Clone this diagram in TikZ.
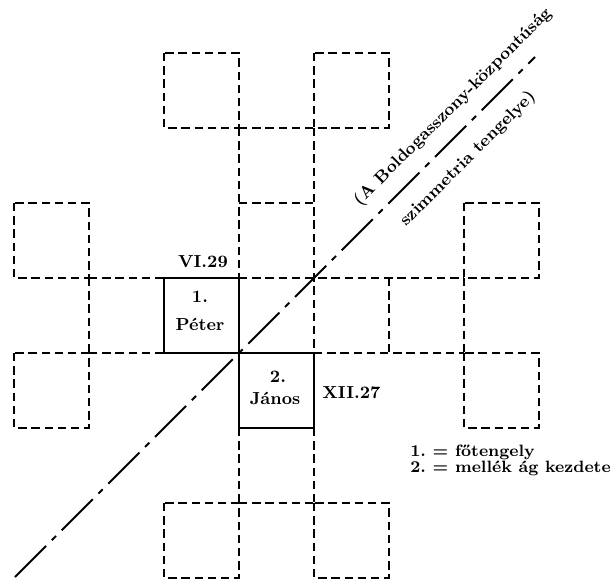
\documentclass[tikz,border=0pt]{standalone}
\begin{document}
\frenchspacing
\begin{tikzpicture}[x=0.5pt,y=-0.5pt,
  dsh/.style={line width=0.9pt, dash pattern=on 4.2pt off 2.4pt},
  sld/.style={line width=1pt},
  symaxis/.style={line width=0.9pt, dash pattern=on 22pt off 4pt on 3pt off 4pt},
  lbl/.style={font=\fontsize{8.7}{10}\selectfont\bfseries, inner sep=0pt},
  leg/.style={font=\fontsize{8.2}{10}\selectfont\bfseries, inner sep=0pt, anchor=base west},
  rlbl/.style={font=\fontsize{8.5}{10}\selectfont\bfseries, inner sep=0pt, rotate=45}]
\useasboundingbox (0,0) rectangle (611,579);
\foreach \i in {0,...,7}{\foreach \j in {0,...,7}{\coordinate (p\i\j) at ({14+75*\i},{53+75*\j});}}
% top squares
\draw[dsh] (p20) rectangle (p31);
\draw[dsh] (p40) rectangle (p51);
\draw[dsh] (p31) -- (p41);
\draw[dsh] (p31) -- (p33);
\draw[dsh] (p41) -- (p44);
\draw[dsh] (p32) -- (p42);
% left squares
\draw[dsh] (p02) rectangle (p13);
\draw[dsh] (p04) rectangle (p15);
\draw[dsh] (p13) -- (p14);
% right squares
\draw[dsh] (p62) rectangle (p73);
\draw[dsh] (p64) rectangle (p75);
\draw[dsh] (p63) -- (p64);
% horizontal arms
\draw[dsh] (p13) -- (p23);
\draw[dsh] (p33) -- (p63);
\draw[dsh] (p14) -- (p24);
\draw[dsh] (p44) -- (p64);
\draw[dsh] (p53) -- (p54);
% bottom
\draw[dsh] (p35) -- (p36);
\draw[dsh] (p45) -- (p46);
\draw[dsh] (p26) rectangle (p37);
\draw[dsh] (p46) rectangle (p57);
\draw[dsh] (p36) -- (p46);
% solid squares
\draw[sld] (p23) rectangle (p34);
\draw[sld] (p34) rectangle (p45);
% symmetry axis
\coordinate (d1) at (15,577);
\coordinate (d2) at (535,57);
\draw[symaxis] (d1) -- (d2);
% labels
\node[lbl, anchor=base] (vi) at (203,267) {VI.29};
\node[lbl, anchor=base] (one) at (200,302) {1.};
\node[lbl, anchor=base] (peter) at (200,330) {Péter};
\node[lbl, anchor=base] (two) at (278,382) {2.};
\node[lbl, anchor=base] (janos) at (275,404) {János};
\node[lbl, anchor=base west] (xii) at (322,398) {XII.27};
\node[leg] (l1) at (410,456) {1. = főtengely};
\node[leg] (l2) at (410,472) {2. = mellék ág kezdete};
\node[rlbl] (t1) at (453,107) {(A Boldogasszony-központúság};
\node[rlbl] (t2) at (468,159) {szimmetria tengelye)};
\end{tikzpicture}
\end{document}
